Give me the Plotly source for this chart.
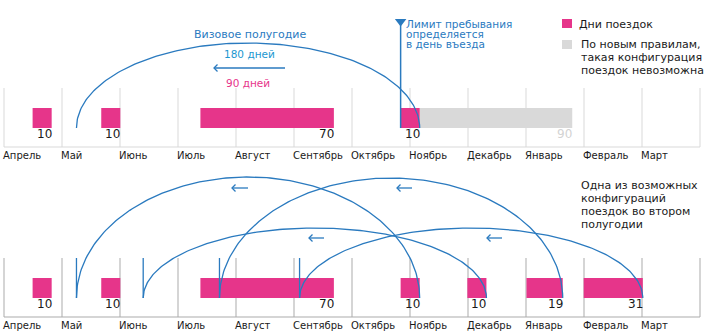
import numpy as np
import plotly.graph_objects as go

# ---- data -------------------------------------------------------------
MONTHS = ["Апрель", "Май", "Июнь", "Июль", "Август", "Сентябрь",
          "Октябрь", "Ноябрь", "Декабрь", "Январь", "Февраль", "Март"]
DAYS_PER_MONTH = 365 / 12

# days are counted from 1 April
h1_starts = [15, 51, 103]          # trips of the first visa half-year
h1_days = [10, 10, 70]

entry_start = [208]                # November entry, top scenario
entry_days = [10]
old_rules_total = 90               # stay the old rules allowed from that entry

h2_starts = [208, 243, 274, 304]   # trips of the second half-year, bottom scenario
h2_days = [10, 10, 19, 31]

WINDOW = 180                       # visa half-year, days

# ---- styling / geometry ----------------------------------------------
W, H = 713, 333
X0 = 4                             # pixel of day 0
K = 696 / 365                      # pixels per day
PINK = "#e6358a"
GREY_BAR = "#d9d9d9"
BLUE = "#2a7abf"
CYAN = "#1b97d0"
INK = "#1a1a1a"
FONT = "DejaVu Sans"


def d(px):
    """horizontal pixel -> day coordinate"""
    return (px - X0) / K


panels = [
    dict(top=88, base=147, bar=118, num=134, month=155, grid="#d9d9d9"),
    dict(top=258, base=317, bar=288, num=304, month=325, grid="#ababab"),
]

fig = go.Figure()
shapes, ann = [], []


def text(x, y, s, size=11, color=INK, anchor="left", xref="x"):
    ann.append(dict(x=x, y=y, xref=xref, yref="y", text=s, showarrow=False,
                    xanchor=anchor, yanchor="middle", borderpad=0, borderwidth=0,
                    font=dict(family=FONT, size=size, color=color)))


# month grid, base lines and month names
month_edges = [i * DAYS_PER_MONTH for i in range(len(MONTHS) + 1)]
for p in panels:
    for e in month_edges:
        shapes.append(dict(type="line", xref="x", yref="y", x0=e, x1=e,
                           y0=p["top"], y1=p["base"],
                           line=dict(color=p["grid"], width=1), layer="below"))
    shapes.append(dict(type="line", xref="x", yref="y", x0=month_edges[0],
                       x1=month_edges[-1], y0=p["base"], y1=p["base"],
                       line=dict(color=p["grid"], width=1), layer="below"))
    for name, e in zip(MONTHS, month_edges):
        text(e - 1 / K, p["month"], name, size=10)


def bars(starts, lengths, y, color):
    fig.add_trace(go.Bar(orientation="h", base=starts, x=lengths,
                         y=[y] * len(starts), width=20,
                         marker=dict(color=color, line=dict(width=0)),
                         hoverinfo="skip"))


def arc(start, end, base, height, n=160):
    t = np.linspace(np.pi, 0, n)
    c, a = (start + end) / 2, (end - start) / 2
    fig.add_trace(go.Scatter(x=c + a * np.cos(t), y=base - height * np.sin(t),
                             mode="lines", line=dict(color=BLUE, width=1.3),
                             hoverinfo="skip"))


def arrow(px_tip, px_tail, y):
    hx = d(px_tip + 3.5) - d(px_tip)
    fig.add_trace(go.Scatter(
        x=[d(px_tail), d(px_tip), None, d(px_tip) + hx, d(px_tip), d(px_tip) + hx],
        y=[y, y, None, y - 3.5, y, y + 3.5],
        mode="lines", line=dict(color=BLUE, width=1.3), hoverinfo="skip"))


# ---- top: one entry breaks the new rule ------------------------------
tp = panels[0]
entry_end = entry_start[0] + entry_days[0]
bars([entry_end], [old_rules_total - entry_days[0]], tp["bar"], GREY_BAR)
bars(h1_starts + entry_start, h1_days + entry_days, tp["bar"], PINK)
for s, n in zip(h1_starts + entry_start, h1_days + entry_days):
    text(s + n, tp["num"], str(n), size=12, anchor="right")
text(entry_start[0] + old_rules_total, tp["num"], str(old_rules_total),
     size=12, color="#d3d3d3", anchor="right")

arc(entry_end - WINDOW, entry_end, tp["bar"] + 10, 85)
arrow(214, 285, 68)
text(d(250), 34, "Визовое полугодие", size=11, color=BLUE, anchor="center")
text(d(249), 54, "180 дней", size=10.5, color=CYAN, anchor="center")
text(d(248), 83, "90 дней", size=10.5, color=PINK, anchor="center")

# entry-day marker
fig.add_trace(go.Scatter(x=[entry_start[0], entry_start[0]], y=[19, tp["bar"] + 10],
                         mode="lines", line=dict(color=BLUE, width=1.5),
                         hoverinfo="skip"))
fig.add_trace(go.Scatter(x=[entry_start[0]], y=[21.5], mode="markers",
                         marker=dict(symbol="triangle-down", size=10, color=BLUE),
                         hoverinfo="skip"))
for i, line in enumerate(["Лимит пребывания", "определяется", "в день въезда"]):
    text(d(406), 24 + 10 * i, line, size=10.5, color=BLUE)

# legend
shapes.append(dict(type="rect", xref="x", yref="y", x0=d(562), x1=d(572),
                   y0=19, y1=28, fillcolor=PINK, line=dict(width=0)))
shapes.append(dict(type="rect", xref="x", yref="y", x0=d(562), x1=d(572),
                   y0=40, y1=49, fillcolor=GREY_BAR, line=dict(width=0)))
text(d(579), 24, "Дни поездок")
for i, line in enumerate(["По новым правилам,", "такая конфигурация",
                          "поездок невозможна"]):
    text(d(581), 44 + 13 * i, line)

# ---- bottom: an allowed second half-year -----------------------------
bp = panels[1]
bars(h1_starts + h2_starts, h1_days + h2_days, bp["bar"], PINK)
for s, n in zip(h1_starts + h2_starts, h1_days + h2_days):
    text(s + n, bp["num"], str(n), size=12, anchor="right")

arc_heights = [121, 70, 120, 70]
arrow_px = [(232, 248, 188), (309, 324, 238), (397, 412, 188), (487, 502, 238)]
tick_x, tick_y = [], []
for s, n, hgt, (a0, a1, ay) in zip(h2_starts, h2_days, arc_heights, arrow_px):
    end = s + n
    arc(end - WINDOW, end, bp["bar"] + 10, hgt)
    tick_x += [end - WINDOW, end - WINDOW, None]
    tick_y += [bp["top"], bp["bar"] + 10, None]
    arrow(a0, a1, ay)
fig.add_trace(go.Scatter(x=tick_x, y=tick_y, mode="lines",
                         line=dict(color=BLUE, width=1.3), hoverinfo="skip"))

for i, line in enumerate(["Одна из возможных", "конфигураций",
                          "поездок во втором", "полугодии"]):
    text(d(581), 185 + 13 * i, line)

fig.update_layout(
    width=W, height=H, margin=dict(l=0, r=0, t=0, b=0),
    paper_bgcolor="white", plot_bgcolor="white",
    barmode="overlay", showlegend=False,
    xaxis=dict(range=[d(0), d(W)], visible=False, fixedrange=True),
    yaxis=dict(range=[H, 0], visible=False, fixedrange=True),
    shapes=shapes, annotations=ann,
)

fig.write_html("out.html", config={"displayModeBar": False})
